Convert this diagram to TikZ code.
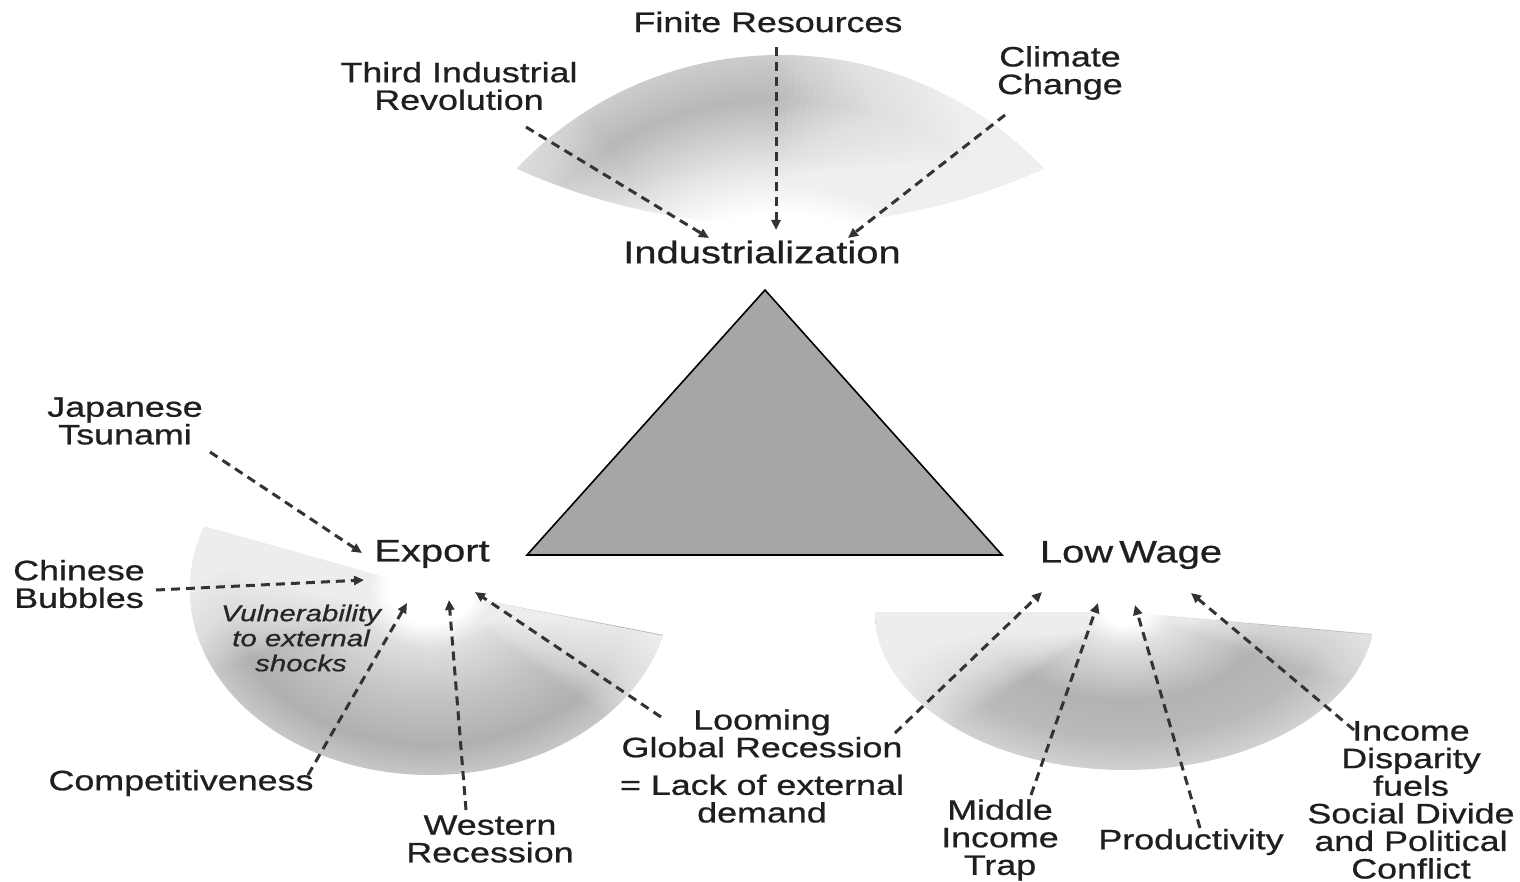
\documentclass[tikz,border=0pt]{standalone}
\usepackage{fontspec}
\setmainfont{Liberation Sans}[FakeStretch=1.28,FakeBold=0.8]
\usetikzlibrary{arrows.meta,calc}
\pgfdeclareradialshading{ringtop}{\pgfpoint{0bp}{0bp}}{color(0bp)=(white);color(14bp)=(white);color(17bp)=(black!9);color(22bp)=(black!28);color(25bp)=(black!20);color(50bp)=(black!20)}
\pgfdeclareradialshading{ringleft}{\pgfpoint{0bp}{0bp}}{color(0bp)=(white);color(4.5bp)=(white);color(8bp)=(black!13);color(15bp)=(black!24);color(21bp)=(black!31);color(25bp)=(black!22);color(50bp)=(black!22)}
\pgfdeclareradialshading{ringright}{\pgfpoint{0bp}{0bp}}{color(0bp)=(white);color(2bp)=(white);color(5bp)=(black!11);color(14bp)=(black!30);color(20bp)=(black!27);color(25bp)=(black!18);color(50bp)=(black!18)}
% white wedges stacked towards one end of a fan: x radius, y radius, end angle, signed step, count, opacity
\newcommand\fanfade[6]{%
  \foreach \k in {1,...,#5}{%
    \fill[white,opacity=#6] (0,0) -- (#3:#1 and #2)
      arc[start angle=#3, end angle={#3+\k*(#4)}, x radius=#1, y radius=#2] -- cycle;}}
\begin{document}
\begin{tikzpicture}[x=0.5pt,y=-0.5pt,
  lab/.style={font=\fontsize{14}{13.8}\selectfont, align=center, inner sep=0pt, text=black!88},
  big/.style={font=\fontsize{15.6}{16}\selectfont, inner sep=0pt, text=black!88},
  vul/.style={font=\fontsize{11.5}{12.5}\selectfont\itshape, align=center, inner sep=0pt, text=black!85},
  link/.style={draw=black!80, line width=1.5pt, dash pattern=on 4.5pt off 3pt, -{Triangle[length=5pt,width=4.5pt]}},
  tri/.style={fill=black!35, draw=black, line width=0.8pt, line join=miter}]
\path[use as bounding box] (0,0) rectangle (1520,882);

% top fan
\begin{scope}
  \clip (780,417) circle (362);
  \clip (780,-416) circle (641);
  \shade[shading=ringtop] (780,417) circle (362);
  \begin{scope}[shift={(780,417)}]
    \fanfade{380}{380}{318}{-1.2}{40}{0.06}
    \fanfade{380}{380}{222}{1}{15}{0.045}
  \end{scope}
\end{scope}

% left fan (Export)
\begin{scope}[shift={(430,590)}]
  \clip (0,0) -- (14:240 and 185) arc[start angle=14, end angle=200, x radius=240, y radius=185] -- cycle;
  \shade[shading=ringleft] (0,0) ellipse [x radius=240, y radius=185];
  \fanfade{260}{205}{200}{-1}{45}{0.055}
  \fanfade{260}{205}{14}{1}{28}{0.055}
\end{scope}

% right fan (Low Wage)
\begin{scope}[shift={(1125,612)}]
  \clip (0,0) -- (8:250 and 158) arc[start angle=8, end angle=180, x radius=250, y radius=158] -- cycle;
  \shade[shading=ringright] (0,0) ellipse [x radius=250, y radius=158];
  \fanfade{270}{178}{180}{-1}{45}{0.055}
  \fanfade{270}{178}{8}{1}{18}{0.045}
\end{scope}

% central triangle
\draw[tri] (765,290) -- (1002,555) -- (527,555) -- cycle;

% nodes
\node[lab] (fr) at (768,22) {Finite Resources};
\node[lab] (ti) at (459,86) {Third Industrial\\Revolution};
\node[lab] (cc) at (1060,73) {Climate\\Change};
\node[big] (ind) at (762,252) {Industrialization};
\node[big] (exp) at (432,554) {Export};
\node[big] (lw) at (1131,555) {Low\hspace{-2.5pt} Wage};
\node[lab] (jt) at (125,421) {Japanese\\Tsunami};
\node[lab] (cb) at (79,584) {Chinese\\Bubbles};
\node[vul] (vul) at (301,638) {Vulnerability\\to external\\shocks};
\node[lab] (comp) at (181,783) {Competitiveness};
\node[lab] (wr) at (490,839) {Western\\Recession};
\node[lab] (lgr) at (762,766) {Looming\\Global Recession\\[5pt]= Lack of external\\demand};
\node[lab] (mit) at (1000,840) {Middle\\Income\\Trap};
\node[lab] (prod) at (1191,842) {Productivity};
\node[lab] (idp) at (1411,800) {Income\\Disparity\\fuels\\Social Divide\\and Political\\Conflict};

% connectors
\draw[link] ($(ti.center)+(67,41)$) -- ($(ind.center)+(-53,-14)$);
\draw[link] ($(fr.center)+(8,25)$) -- ($(ind.center)+(14,-22)$);
\draw[link] ($(cc.center)+(-55,42)$) -- ($(ind.center)+(86,-14)$);
\draw[link] ($(jt.center)+(85,31)$) -- ($(exp.center)+(-70,-1)$);
\draw[link] ($(cb.center)+(77,6)$) -- ($(exp.center)+(-68,26)$);
\draw[link] ($(comp.center)+(127,-8)$) -- ($(exp.center)+(-25,49)$);
\draw[link] ($(wr.center)+(-24,-29)$) -- ($(exp.center)+(17,46)$);
\draw[link] ($(lgr.center)+(-101,-49)$) -- ($(exp.center)+(43,38)$);
\draw[link] ($(lgr.center)+(133,-33)$) -- ($(lw.center)+(-89,37)$);
\draw[link] ($(mit.center)+(31,-45)$) -- ($(lw.center)+(-33,48)$);
\draw[link] ($(prod.center)+(9,-14)$) -- ($(lw.center)+(4,50)$);
\draw[link] ($(idp.center)+(-57,-70)$) -- ($(lw.center)+(60,38)$);
\end{tikzpicture}
\end{document}
